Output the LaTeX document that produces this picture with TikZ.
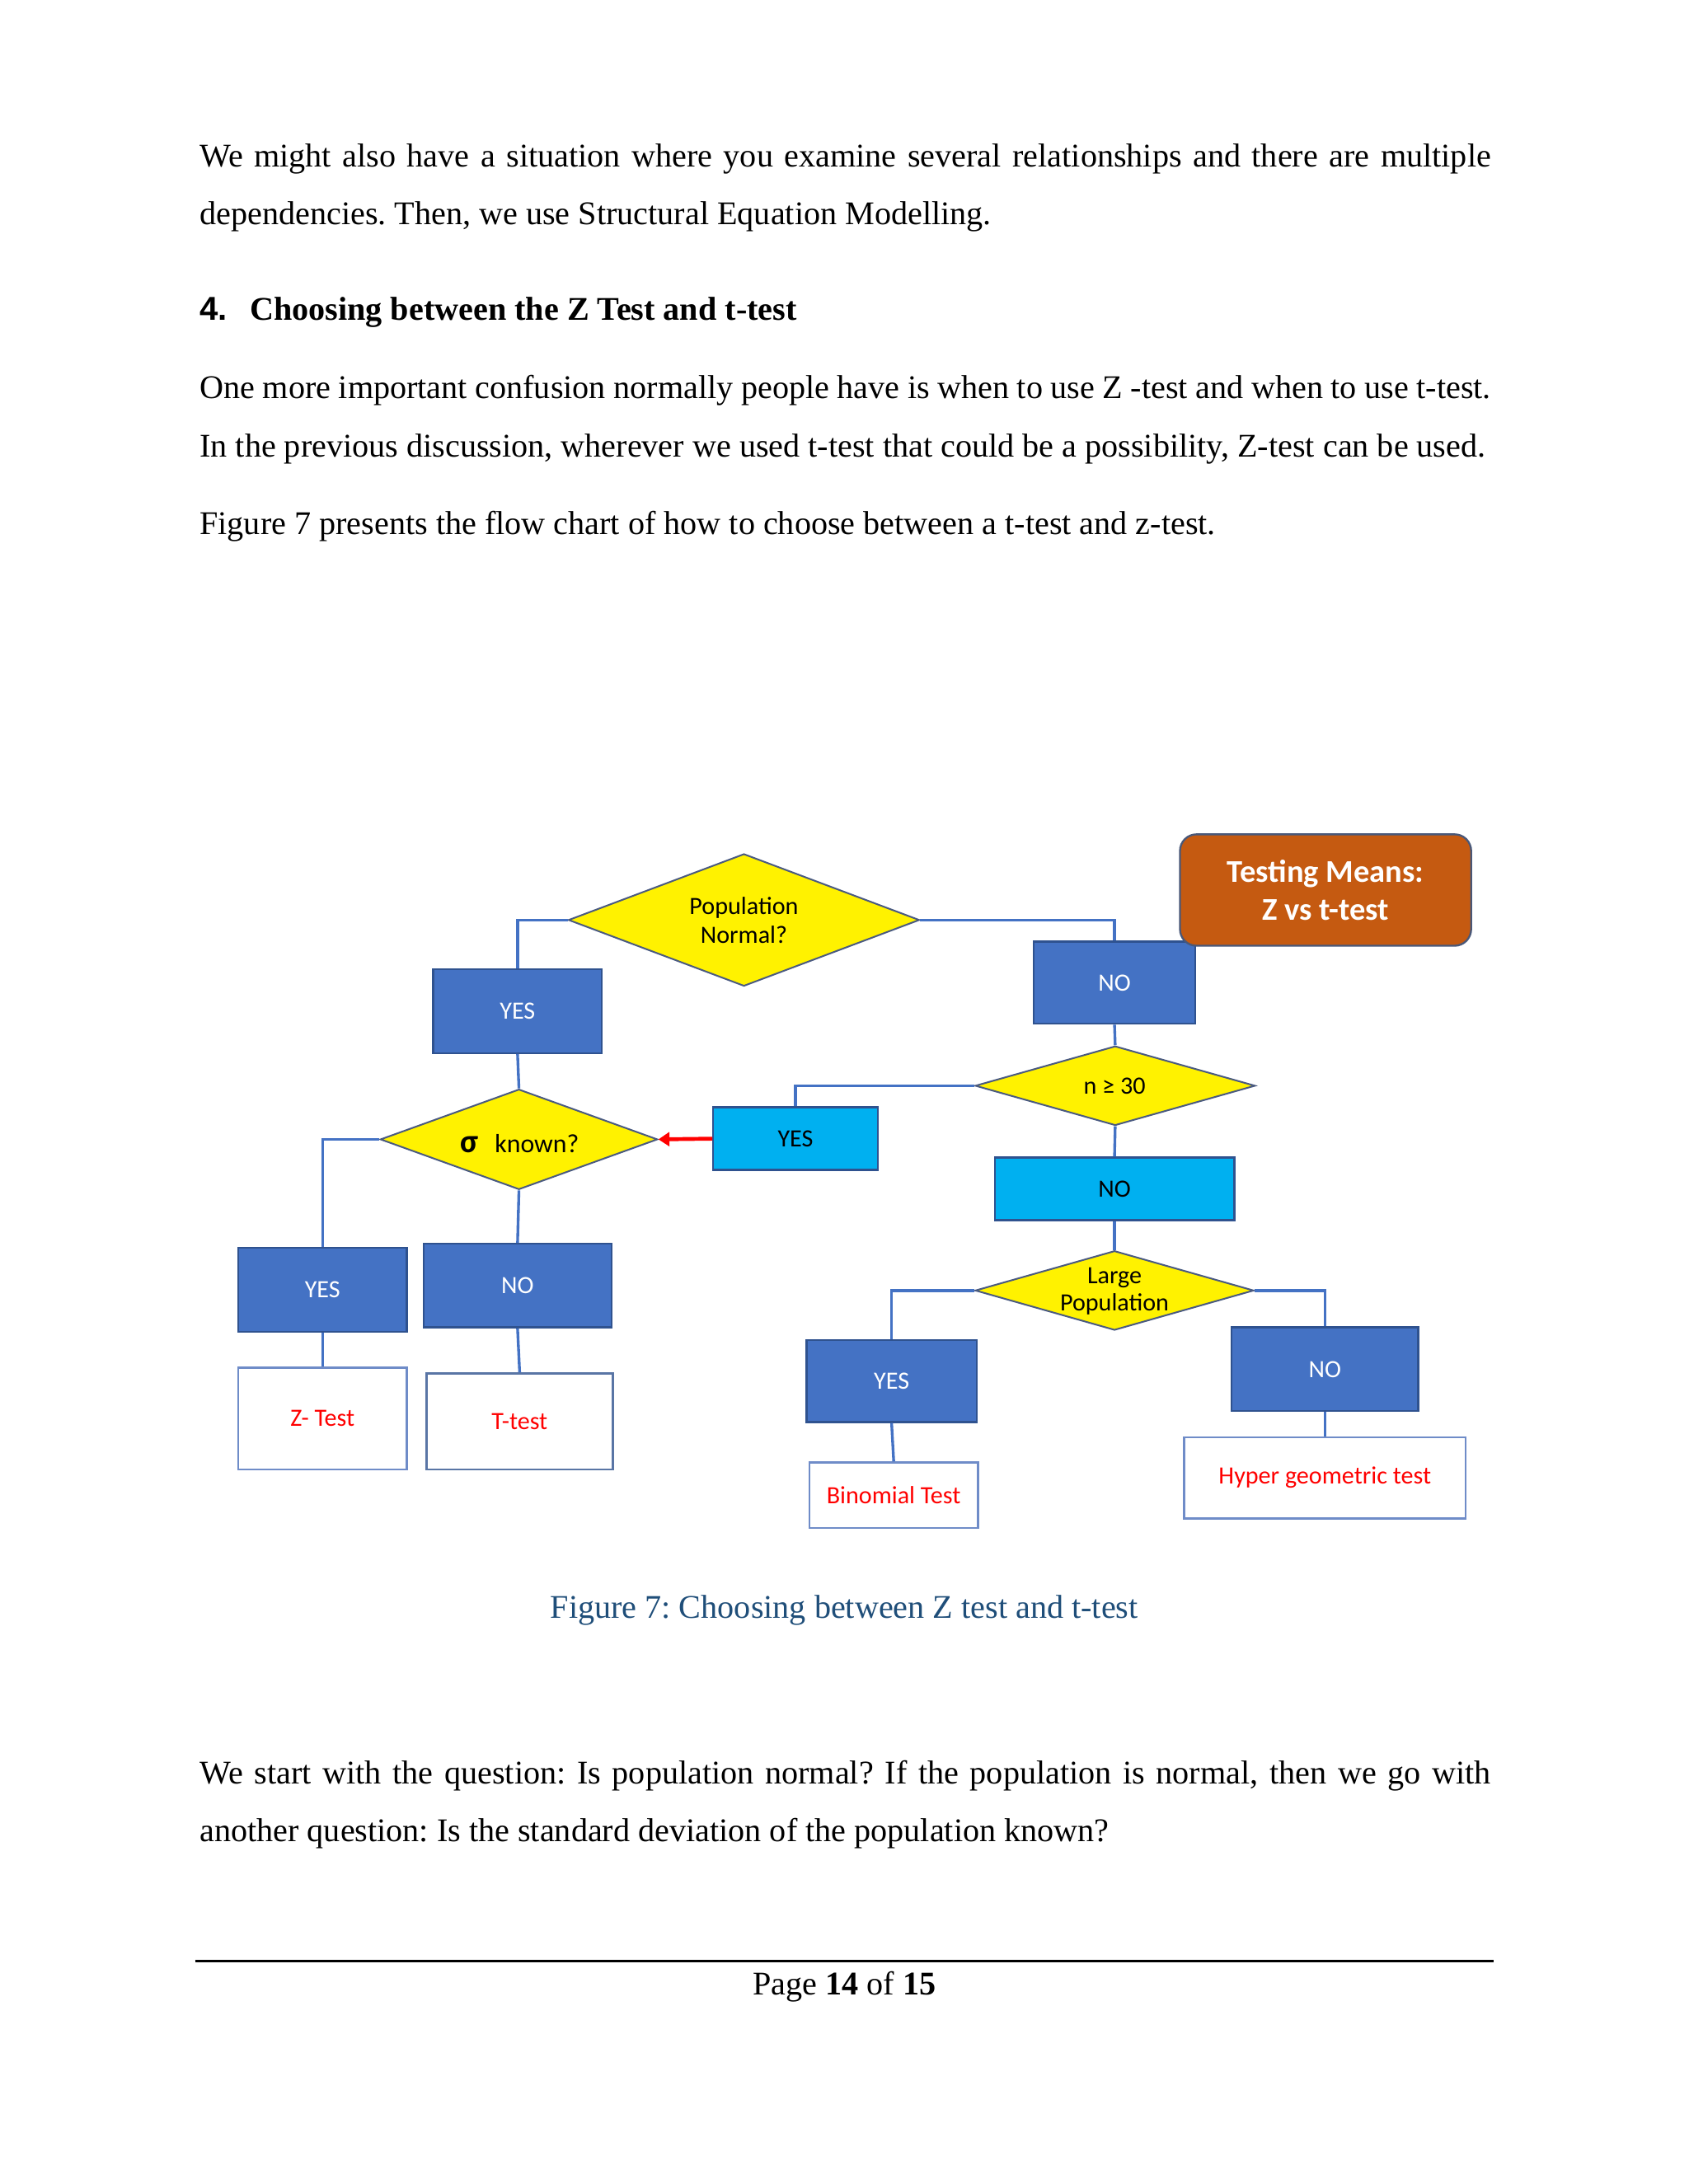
\documentclass[tikz,border=0pt]{standalone}
\usepackage{fontspec}
\setmainfont{Liberation Serif}
\newfontfamily\calibri{Carlito}
\newfontfamily\arialf{Liberation Sans}
\usetikzlibrary{shapes.geometric,arrows.meta}
\definecolor{boxblue}{HTML}{4472C4}
\definecolor{boxedge}{HTML}{2F528F}
\definecolor{cyanbox}{HTML}{00B0F0}
\definecolor{linkblue}{HTML}{4472C4}
\definecolor{orangebox}{HTML}{C55A11}
\definecolor{orangeedge}{HTML}{4A5878}
\definecolor{capblue}{HTML}{1F4E79}
\definecolor{diaedge}{HTML}{4A5A80}
\definecolor{resedge}{HTML}{6F8CC8}
\frenchspacing
\begin{document}
\frenchspacing
\begin{tikzpicture}[x=0.50495pt,y=-0.50495pt,
  body/.style={anchor=base west,inner sep=0pt,font=\fontsize{12}{14}\selectfont\frenchspacing},
  darkbox/.style={rectangle,draw=boxedge,line width=0.7pt,fill=boxblue,text=white,inner sep=0pt,font=\calibri\fontsize{9}{10}\selectfont},
  cyanb/.style={rectangle,draw=boxedge,line width=0.7pt,fill=cyanbox,text=black,inner sep=0pt,font=\calibri\fontsize{9}{10}\selectfont},
  resbox/.style={rectangle,draw=resedge,line width=0.8pt,fill=white,text=red,inner sep=0pt,font=\calibri\fontsize{9}{10}\selectfont},
  decide/.style={diamond,draw=diaedge,line width=0.6pt,fill=yellow,inner sep=0pt},
  dtext/.style={inner sep=0pt,align=center,font=\calibri\fontsize{9}{10.5}\selectfont},
  link/.style={draw=linkblue,line width=1pt},
]
\useasboundingbox (0,0) rectangle (1212,1568);

% ---------- body text ----------
\node[body] (p1a) at (143,120) {\makebox[468pt][s]{We might also have a situation where you examine several relationships and there are multiple}};
\node[body] (p1b) at (143,161) {dependencies. Then, we use Structural Equation Modelling.};
\node[body] (h4n) at (143,230) {\arialf\bfseries 4.};
\node[body] (h4t) at (179,230) {\bfseries Choosing between the Z Test and t-test};
\node[body] (p2a) at (143,286) {\makebox[468pt][s]{One more important confusion normally people have is when to use Z -test and when to use t-test.}};
\node[body] (p2b) at (143,328) {In the previous discussion, wherever we used t-test that could be a possibility, Z-test can be used.};
\node[body] (p3) at (143,384) {Figure 7 presents the flow chart of how to choose between a t-test and z-test.};

% ---------- diagram: nodes ----------
\node[decide,minimum width={252*0.50495pt},minimum height={95*0.50495pt}] (popn) at (534,660.5) {};
\node[dtext] (popnt) at (popn.center) {Population\\Normal?};

\node[darkbox,minimum width={121*0.50495pt},minimum height={60*0.50495pt}] (yes1) at (371.5,726) {\raisebox{-1pt}{YES}};
\node[darkbox,minimum width={116*0.50495pt},minimum height={59*0.50495pt}] (no1) at (800,705.5) {NO};

\node[decide,minimum width={199*0.50495pt},minimum height={72*0.50495pt}] (sigma) at (372.5,818) {};
\node[dtext,font=\calibri\fontsize{9.5}{11}\selectfont] (sigmat) at (373,821) {{\fontsize{12}{12}\selectfont\bfseries σ}\hspace{6pt}known?};

\node[decide,minimum width={201*0.50495pt},minimum height={57*0.50495pt}] (ngeq) at (800.5,779.5) {};
\node[dtext] (ngeqt) at (800,780) {n ≥ 30};

\node[cyanb,minimum width={118*0.50495pt},minimum height={45*0.50495pt}] (yes2) at (571,817.5) {YES};
\node[cyanb,minimum width={172*0.50495pt},minimum height={45*0.50495pt}] (no2) at (800,853.5) {NO};

\node[decide,minimum width={200*0.50495pt},minimum height={57*0.50495pt}] (large) at (800,926.5) {};
\node[dtext,font=\calibri\fontsize{9}{10}\selectfont] (larget) at (800,927) {Large\\Population};

\node[darkbox,minimum width={121*0.50495pt},minimum height={60*0.50495pt}] (yes3) at (231.5,926) {\raisebox{-1pt}{YES}};
\node[darkbox,minimum width={135*0.50495pt},minimum height={60*0.50495pt}] (no3) at (371.5,923) {NO};
\node[resbox,minimum width={121*0.50495pt},minimum height={73*0.50495pt}] (ztest) at (231.5,1018.5) {\raisebox{-1pt}{Z- Test}};
\node[resbox,draw=boxedge!80,minimum width={134*0.50495pt},minimum height={69*0.50495pt}] (ttest) at (373,1020.5) {T-test};

\node[darkbox,minimum width={122*0.50495pt},minimum height={59*0.50495pt}] (yes4) at (640,991.5) {YES};
\node[darkbox,minimum width={134*0.50495pt},minimum height={60*0.50495pt}] (no4) at (951,983) {NO};
\node[resbox,minimum width={121*0.50495pt},minimum height={47*0.50495pt}] (binom) at (641.5,1073.5) {Binomial Test};
\node[resbox,minimum width={202*0.50495pt},minimum height={58*0.50495pt}] (hyper) at (951,1061) {\raisebox{-1pt}{Hyper geometric test}};

% ---------- diagram: connectors ----------
\draw[link] (popn.west) -| (yes1.north);
\draw[link] (popn.east) -| (no1.north);
\draw[link] (yes1.south) -- (sigma.north);
\draw[link] (sigma.west) -| (yes3.north);
\draw[link] (yes3.south) -- (ztest.north);
\draw[link] (sigma.south) -- (no3.north);
\draw[link] (no3.south) -- (ttest.north);
\draw[link] (no1.south) -- (ngeq.north);
\draw[link] (ngeq.west) -| (yes2.north);
\draw[link] (ngeq.south) -- (no2.north);
\draw[link] (no2.south) -- (large.north);
\draw[link] (large.west) -| (yes4.north);
\draw[link] (yes4.south) -- (binom.north);
\draw[link] (large.east) -| (no4.north);
\draw[link] (no4.south) -- (hyper.north);
\draw[red,line width=1.4pt,-{Triangle[length=4pt,width=5pt]}] (yes2.west) -- (sigma.east);

% title box (drawn on top)
\node[rectangle,rounded corners=6pt,draw=orangeedge,line width=0.7pt,fill=orangebox,text=white,align=center,
      minimum width={209*0.50495pt},minimum height={80*0.50495pt},inner sep=0pt,
      font=\calibri\bfseries\fontsize{11.5}{13.6}\selectfont] (title) at (951.5,639) {Testing Means:\\Z vs t-test};

% ---------- caption and text below ----------
\node[anchor=base,inner sep=0pt,text=capblue,font=\fontsize{12}{14}\selectfont] (cap) at (606,1162) {Figure 7: Choosing between Z test and t-test};
\node[body] (p4a) at (143,1281) {\makebox[468pt][s]{We start with the question: Is population normal? If the population is normal, then we go with}};
\node[body] (p4b) at (143,1322) {another question: Is the standard deviation of the population known?};

% ---------- footer ----------
\coordinate (fl) at (140,1408);
\coordinate (fr) at (1072,1408);
\draw[line width=0.75pt] (fl) -- (fr);
\node[anchor=base,inner sep=0pt,font=\fontsize{12}{14}\selectfont] (page) at (606,1432) {Page \textbf{14} of \textbf{15}};
\end{tikzpicture}
\end{document}
